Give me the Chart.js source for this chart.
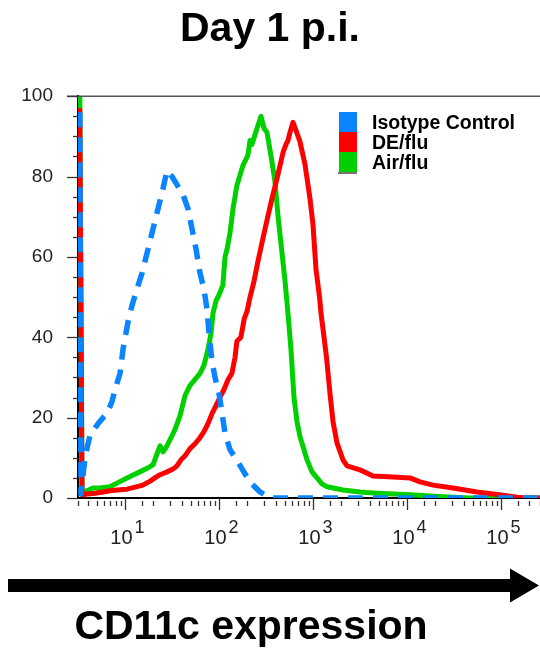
<!DOCTYPE html>
<html>
<head>
<meta charset="utf-8">
<title>Day 1 p.i. – CD11c expression</title>
<script src="https://cdn.jsdelivr.net/npm/chart.js@4.4.1/dist/chart.umd.min.js"></script>
<style>
  html, body { margin: 0; padding: 0; background: #fff; }
  #wrap { position: relative; width: 540px; height: 662px; }
</style>
</head>
<body>
<div id="wrap"><canvas id="c"></canvas></div>
<script>
const FONT = "'Liberation Sans', Arial, Helvetica, sans-serif";

const chartTitle = 'Day 1 p.i.';
const axisCaption = 'CD11c expression';
const seriesLabels = ['Isotype Control', 'DE/flu', 'Air/flu'];
const seriesColors = ['#0a84ff', '#ff0000', '#00d000'];

// Histogram traces: CD11c fluorescence (x, log) vs. % of max (y)
const isoX = [3.3, 3.4, 3.75, 4.0, 4.24, 5.16, 5.83, 6.43, 7.27, 7.83, 8.85, 9.52, 10.8, 11.9, 13.4, 15.2,
  17.6, 19.4, 21.9, 24.8, 28.0, 31.6, 35.7, 41.4, 46.8, 51.6, 56.9, 62.8, 69.2, 74.5, 78.3, 84.3, 90.7,
  100, 108, 116, 131, 159, 189, 224, 273, 332, 394, 1000, 10000, 100000, 260000];
const isoY = [96, 1, 10, 13, 15.5, 18.5, 20, 21, 24, 27, 31, 37, 44, 48, 52, 56,
  62, 66, 71, 76, 81.5, 80, 78, 75.5, 72, 67, 62, 56, 52, 47, 41, 34, 30,
  26, 21, 16, 12, 9, 6, 3.5, 1.5, 0.3, 0, 0, 0, 0, 0];

const deX = [3.3, 3.49, 3.94, 4.8, 5.83, 6.92, 8.22, 10.5, 12.8, 15.5, 18.5, 20.8, 23.6, 28.0, 32.4, 35.7,
  39.4, 43.5, 49.1, 55.6, 62.8, 69.2, 76.4, 84.3, 92.9, 102, 113, 125, 137, 148, 155, 171, 185, 199,
  214, 236, 260, 309, 366, 414, 480, 516, 542, 569, 613, 659, 727, 822, 929, 1000, 1076, 1173, 1217,
  1392, 1516, 1633, 1800, 2085, 2300, 3162, 4348, 7096, 10760, 13750, 18900, 30860, 55550, 105000,
  148000, 180000, 260000];
const deY = [97, 0.8, 1, 1.2, 1.5, 1.8, 2, 2.2, 2.7, 3.2, 4.2, 5, 5.8, 6.5, 7.2, 8,
  9.5, 10.5, 12.3, 13.5, 15, 16.5, 18.5, 21, 23, 25, 27, 29.5, 31, 35, 39, 40, 44.5, 46.5,
  50, 54, 59, 67, 74.5, 79.5, 86, 88, 89, 91, 93.5, 91.5, 88.7, 83, 74.5, 68, 57, 50, 46,
  35, 26, 19, 13.7, 9.5, 8, 7, 5.5, 5.2, 5, 4, 3.2, 2.5, 1.5, 0.7,
  0.2, 0, 0];

const airX = [3.3, 3.49, 3.94, 4.57, 5.42, 6.92, 8.22, 10.5, 14.4, 17.6, 19.9, 21.9, 23.6, 25.4, 28.0,
  30.1, 34.0, 38.5, 43.5, 49.1, 55.6, 62.8, 69.2, 76.4, 82.2, 86.4, 92.9, 102, 110, 116, 122, 131,
  141, 155, 180, 203, 214, 224, 254, 280, 301, 324, 366, 394, 424, 468, 504, 542, 583, 628, 676,
  727, 864, 976, 1103, 1246, 1409, 2085, 3162, 4797, 10760, 24150, 46800, 260000];
const airY = [104, 1.5, 1.8, 2.5, 2.5, 2.8, 3.7, 5, 6.5, 7.5, 8.3, 11, 13, 11.5, 13,
  14.5, 17, 20.5, 25.5, 28, 29.5, 31, 33, 37, 41, 46, 49, 51, 53, 60, 62, 66,
  72, 77.8, 82.8, 85.3, 89, 88, 92, 95, 92, 91, 83.7, 78.7, 70.3, 61, 54, 46, 37, 25, 19,
  15.3, 9.5, 6.5, 5, 3.5, 2.8, 2, 1.5, 1.2, 0.8, 0.3, 0, 0];

const xRange = [3.162, 260000];
const yRange = [0, 100];
const yStep = 5;
const yLabelEvery = 20;
const xDecades = [1, 2, 3, 4, 5];

const toPoints = (xs, ys) => xs.map((v, i) => ({ x: v, y: ys[i] }));

// Axis tick marks, decade labels, frame, legend, arrow and caption
const decor = {
  id: 'decor',
  afterDraw(chart) {
    const { ctx, chartArea: a, scales: { x, y } } = chart;
    ctx.save();

    // top frame line
    ctx.strokeStyle = '#555';
    ctx.lineWidth = 1.5;
    ctx.beginPath();
    ctx.moveTo(a.left - 11, a.top);
    ctx.lineTo(a.right, a.top);
    ctx.stroke();

    // y tick marks
    ctx.strokeStyle = '#333';
    ctx.lineWidth = 1.3;
    y.ticks.forEach(t => {
      const py = Math.round(y.getPixelForValue(t.value)) + 0.5;
      const len = t.value % yLabelEvery === 0 ? 11 : 5;
      ctx.beginPath();
      ctx.moveTo(a.left - len, py);
      ctx.lineTo(a.left, py);
      ctx.stroke();
    });

    // x tick marks
    x.ticks.forEach(t => {
      const px = Math.round(x.getPixelForValue(t.value)) + 0.5;
      const d = Math.log10(t.value);
      const major = Math.abs(d - Math.round(d)) < 1e-9;
      ctx.beginPath();
      if (major) { ctx.moveTo(px, a.bottom); ctx.lineTo(px, a.bottom + 12); }
      else { ctx.moveTo(px, a.bottom + 3); ctx.lineTo(px, a.bottom + 8); }
      ctx.stroke();
    });

    // decade labels 10^n
    ctx.fillStyle = '#222';
    ctx.textBaseline = 'alphabetic';
    ctx.textAlign = 'left';
    xDecades.forEach(n => {
      const px = x.getPixelForValue(Math.pow(10, n));
      ctx.font = `20px ${FONT}`;
      const w1 = ctx.measureText('10').width;
      ctx.font = `18px ${FONT}`;
      const w2 = ctx.measureText(String(n)).width;
      const start = px + 2.5 - (w1 + 2 + w2) / 2;
      ctx.font = `20px ${FONT}`;
      ctx.fillText('10', start, a.bottom + 46);
      ctx.font = `18px ${FONT}`;
      ctx.fillText(String(n), start + w1 + 2, a.bottom + 35);
    });

    // legend
    const lx = 339, ly = 112, row = 20;
    chart.data.datasets.forEach((ds, i) => {
      ctx.fillStyle = seriesColors[i];
      ctx.fillRect(lx, ly + i * row, 18, row);
      ctx.fillStyle = '#000';
      ctx.font = `bold 19.5px ${FONT}`;
      ctx.fillText(ds.label, lx + 33, ly + i * row + 16.5);
    });
    ctx.fillStyle = '#777';
    ctx.fillRect(lx - 1, ly + 3 * row, 19, 2);

    // arrow
    ctx.fillStyle = '#000';
    ctx.fillRect(8, 579, 506, 13);
    ctx.beginPath();
    ctx.moveTo(510, 568.5);
    ctx.lineTo(539, 585.5);
    ctx.lineTo(510, 602.5);
    ctx.closePath();
    ctx.fill();

    // caption
    ctx.font = `bold 41px ${FONT}`;
    ctx.textAlign = 'center';
    ctx.fillText(axisCaption, 251, 639);

    ctx.restore();
  }
};

new Chart(document.getElementById('c'), {
  type: 'line',
  data: {
    datasets: [
      { label: seriesLabels[0], data: toPoints(isoX, isoY), borderColor: seriesColors[0],
        borderWidth: 5.5, borderDash: [15, 10], borderCapStyle: 'butt' },
      { label: seriesLabels[1], data: toPoints(deX, deY), borderColor: seriesColors[1], borderWidth: 5 },
      { label: seriesLabels[2], data: toPoints(airX, airY), borderColor: seriesColors[2], borderWidth: 5 }
    ]
  },
  options: {
    responsive: true,
    maintainAspectRatio: false,
    animation: false,
    events: [],
    layout: { padding: 0 },
    elements: {
      point: { radius: 0 },
      line: { tension: 0, fill: false, borderJoinStyle: 'round' }
    },
    scales: {
      x: {
        type: 'logarithmic',
        min: xRange[0],
        max: xRange[1],
        grid: { display: false, drawTicks: false },
        border: { display: true, color: '#000', width: 2 },
        ticks: { display: false },
        afterFit: s => { s.height = 164; }
      },
      y: {
        type: 'linear',
        min: yRange[0],
        max: yRange[1],
        grid: { display: false, drawTicks: false },
        border: { display: true, color: '#000', width: 2 },
        ticks: {
          stepSize: yStep,
          autoSkip: false,
          padding: 25,
          color: '#222',
          font: { family: FONT, size: 19 },
          callback: v => (v % yLabelEvery === 0 ? String(v) : '')
        },
        afterFit: s => { s.width = 78; }
      }
    },
    plugins: {
      legend: { display: false },
      tooltip: { enabled: false },
      title: {
        display: true,
        text: chartTitle,
        color: '#000',
        font: { family: FONT, size: 41, weight: 'bold' },
        padding: { top: 5, bottom: 42 }
      }
    }
  },
  plugins: [decor]
});
</script>
</body>
</html>
